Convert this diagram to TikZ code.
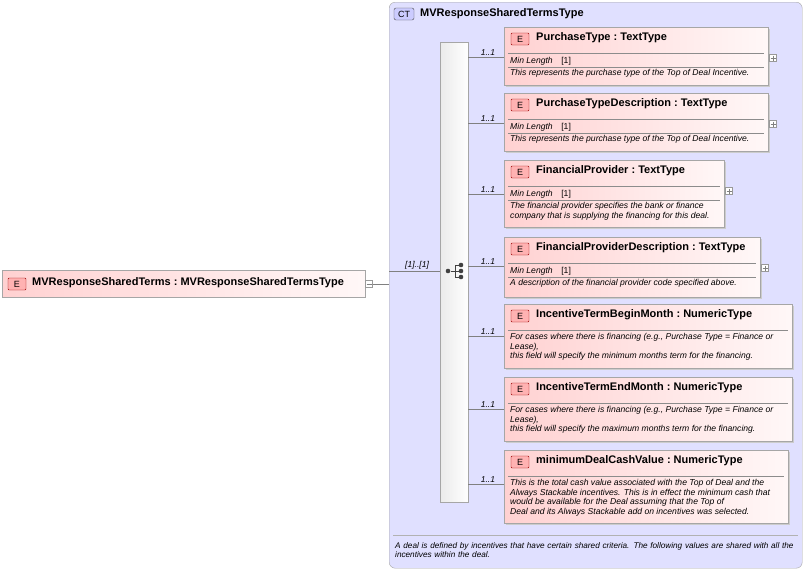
\documentclass[tikz,border=0pt]{standalone}
\usepackage{fontspec}
\setmainfont{Liberation Sans}
\begin{document}
\begin{tikzpicture}[x=1pt,y=-1pt,
  ebox/.style={draw=black!35,left color=red!18,right color=red!3,line width=0.6pt},
  etag/.style={draw=red!60!black,fill=red!30,rounded corners=1pt,minimum width=18pt,minimum height=12pt,inner sep=0pt,font=\fontsize{9}{9}\selectfont},
  ttl/.style={anchor=west,font=\bfseries\fontsize{11}{11}\selectfont,inner sep=0pt},
  sm/.style={anchor=west,font=\itshape\fontsize{8.6}{9.6}\selectfont,inner sep=0pt,align=left},
  card/.style={anchor=south,font=\itshape\fontsize{8.5}{8}\selectfont,inner sep=1pt},
  conn/.style={draw=black!50,line width=0.5pt},
  dot/.style={circle,fill=black!75,minimum size=4.6pt,inner sep=0pt},
  pm/.style={draw=black!40,fill=white,minimum size=7pt,inner sep=0pt}]
\useasboundingbox (0,0) rectangle (805,570);
% CT box
\node[draw=black!35,fill=blue!12,rounded corners=6pt,minimum width=413pt,minimum height=566pt,anchor=north west,inner sep=0pt] (ct) at (389,2) {};
\draw[black!30] (393,535) -- (798,535);
\node[draw=black!70,fill=blue!20,rounded corners=2pt,minimum width=20pt,minimum height=12pt,inner sep=0pt,font=\fontsize{9}{9}\selectfont] (cttag) at (404,14) {CT};
\node[ttl] (cttitle) at (420,14) {MVResponseSharedTermsType};
\node[sm,text width=405pt,align=left,font=\itshape\fontsize{8.2}{9.6}\selectfont] (ctdoc) at (395,550) {\hyphenpenalty=10000 A deal is defined by incentives that have certain shared criteria. The following values are shared with all the incentives within the deal.};
% sequence bar
\node[draw=black!35,left color=black!8,right color=white,minimum width=28pt,minimum height=460pt,anchor=north west,inner sep=0pt] (seq) at (440,42) {};
% seq icon
\node[dot] (d0) at (448,271) {};
\draw[black!75,line width=0.9pt] (d0) -- (455,271) (455,265) -- (455,277);
\foreach \yy in {265,271,277}{\node[dot] (dd\yy) at (461,\yy) {}; \draw[black!75,line width=0.9pt] (455,\yy) -- (dd\yy);}
% root element
\node[ebox,minimum width=363pt,minimum height=27pt,anchor=north west,inner sep=0pt] (root) at (2,270) {};
\node[etag] (roottag) at (17,284) {E};
\node[ttl] (roottitle) at (32,283) {MVResponseSharedTerms\ :\ MVResponseSharedTermsType};
\node[pm] (rootpm) at (369,284) {};
\draw[black!50,line width=0.4pt] (366.5,284) -- (371.5,284);
\coordinate (ctin) at (389,284);
\draw[conn] (rootpm.east) -- (ctin);
\draw[conn] (ct.west |- 0,271) -- (seq.west |- 0,271) node[pos=0.55,card] {[1]..[1]};
% children
\foreach \nm/\ya/\yb/\xr/\title/\ml/\doc/\yc [count=\i] in {
 a/27/85/768/{PurchaseType\ :\ TextType}/1/{This represents the purchase type of the Top of Deal Incentive.}/57,
 b/93/151/768/{PurchaseTypeDescription\ :\ TextType}/1/{This represents the purchase type of the Top of Deal Incentive.}/123,
 c/160/227/724/{FinancialProvider\ :\ TextType}/1/{The financial provider specifies the bank or finance\\company that is supplying the financing for this deal.}/194,
 d/237/297/760/{FinancialProviderDescription\ :\ TextType}/1/{A description of the financial provider code specified above.}/266,
 e/304/368/792/{IncentiveTermBeginMonth\ :\ NumericType}/0/{For cases where there is financing (e.g., Purchase Type = Finance or\\Lease),\\this field will specify the minimum months term for the financing.}/336,
 f/377/441/792/{IncentiveTermEndMonth\ :\ NumericType}/0/{For cases where there is financing (e.g., Purchase Type = Finance or\\Lease),\\this field will specify the maximum months term for the financing.}/409,
 g/450/523/788/{minimumDealCashValue\ :\ NumericType}/0/{This is the total cash value associated with the Top of Deal and the\\Always Stackable incentives. This is in effect the minimum cash that\\would be available for the Deal assuming that the Top of\\Deal and its Always Stackable add on incentives was selected.}/484}{
  \fill[black!20] (506,\ya+2) rectangle (\xr+2,\yb+2);
  \node[ebox,minimum width=\xr-504,minimum height=\yb-\ya,anchor=north west,inner sep=0pt] (\nm) at (504,\ya) {};
  \node[etag] (\nm tag) at (520,\ya+12) {E};
  \node[ttl] (\nm title) at (536,\ya+11) {\title};
  \draw[black!45] (508,\ya+26) -- (\xr-4,\ya+26);
  \ifnum\ml=1
    \node[sm] (\nm ml) at (510,\ya+34) {Min Length\quad{\upshape[1]}};
    \draw[black!45] (508,\ya+40) -- (\xr-4,\ya+40);
    \node[sm,anchor=north west] (\nm doc) at (510,\ya+42) {\doc};
    \node[pm] (\nm pm) at (\xr+5,\ya+31) {};
    \draw[black!50,line width=0.4pt] (\xr+2.5,\ya+31) -- (\xr+7.5,\ya+31) (\xr+5,\ya+28.5) -- (\xr+5,\ya+33.5);
  \else
    \node[sm,anchor=north west] (\nm doc) at (510,\ya+29) {\doc};
  \fi
  \draw[conn] (seq.east |- 0,\yc) -- (\nm.west |- 0,\yc) node[pos=0.55,card] {1..1};
}
\end{tikzpicture}
\end{document}
